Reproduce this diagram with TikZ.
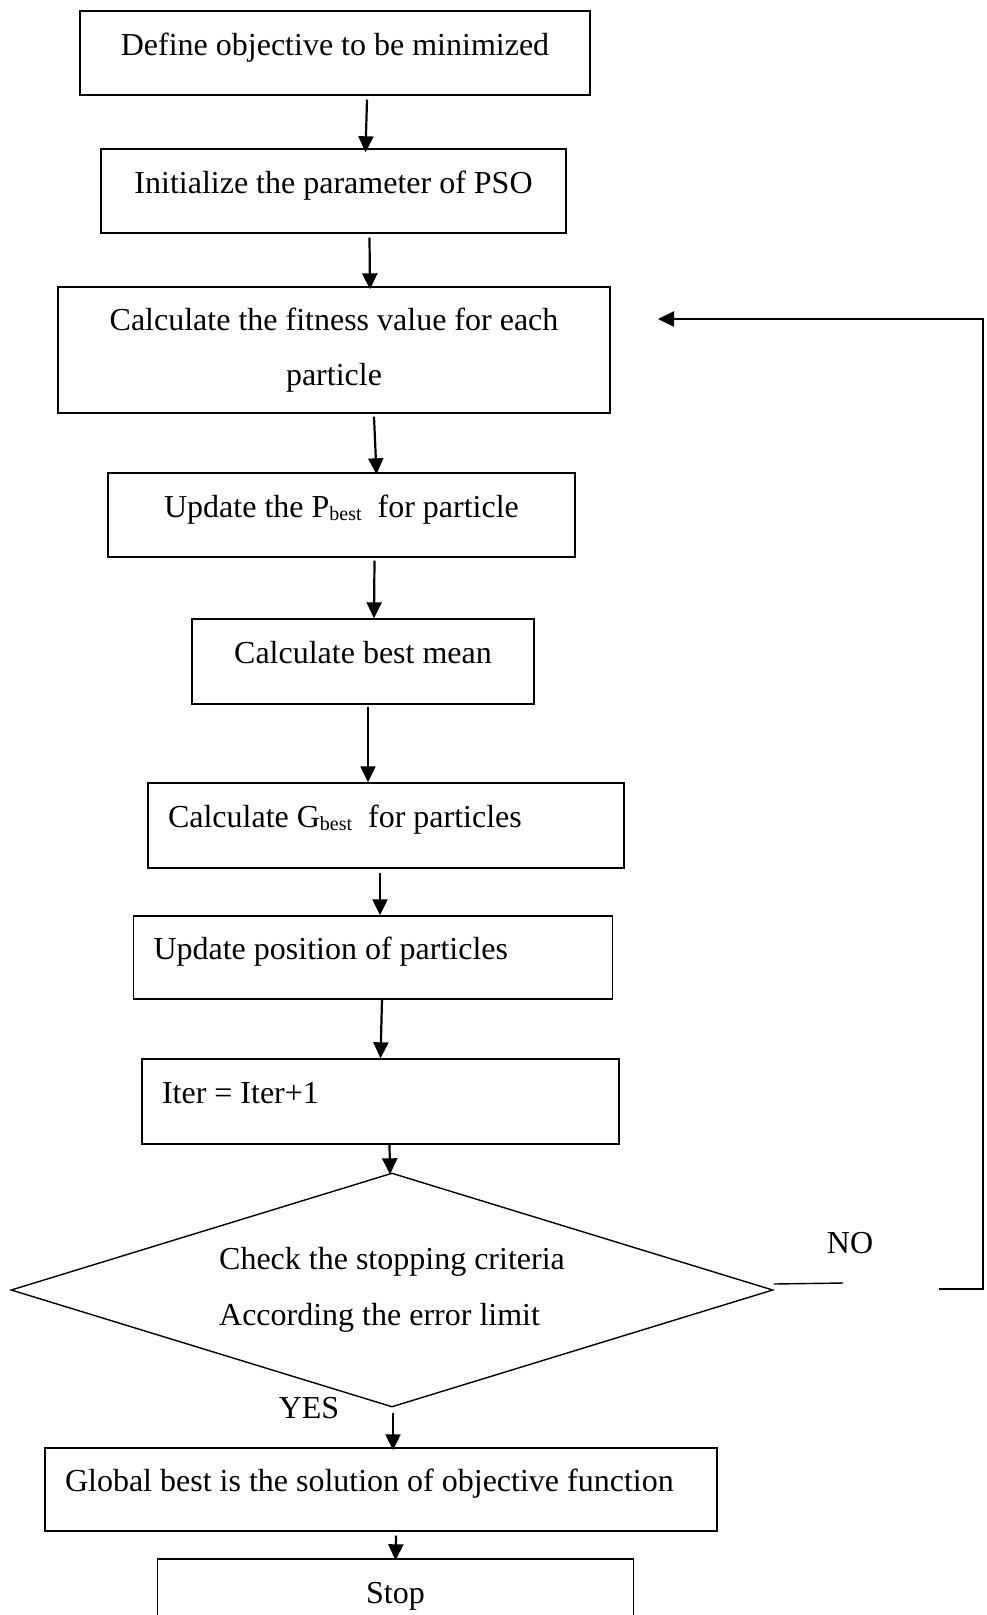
\documentclass[tikz,border=0pt]{standalone}
\usepackage{fontspec}
\setmainfont{Liberation Serif}
\usetikzlibrary{
    positioning,
    arrows.meta,
    shapes.geometric
}
\newcommand{\subIdx}[1]{\raisebox{-3pt}{\fontsize{20}{20}\selectfont #1}}

\begin{document}
\begin{tikzpicture}[x=1pt, y=-1pt, >={Triangle[length=16pt, width=15pt]},
        font=\fontsize{32}{55.5}\selectfont,
        baseBox/.style={draw, line width=1.4pt, inner sep=0pt},
        procBox/.style={baseBox, minimum height=84pt, text height=22pt, text depth=18pt},
        leftBox/.style={procBox, align=flush left, inner xsep=20pt},
        decision/.style={diamond, draw, line width=1.4pt, aspect=3.256, inner sep=0pt,
            minimum width=762pt, minimum height=234pt, align=flush left},
        flow/.style={->, line width=2.2pt}]
        \useasboundingbox (0,0) rectangle (987,1615);

        % Steps
        \node[procBox, minimum width=510pt] (define) at (335,53) {Define objective to be minimized};
        \node[procBox, minimum width=465pt] (init) at (333.5,191) {Initialize the parameter of PSO};
        \node[baseBox, align=center, minimum width=552pt, minimum height=126pt] (fitness) at (334,350)
            {Calculate the fitness value for each\\particle};
        \node[procBox, minimum width=467pt] (pbest) at (341.5,515) {Update the P\subIdx{best} \ for particle};
        \node[procBox, minimum width=342pt, minimum height=85pt] (mean) at (363,661.5) {Calculate best mean};
        \node[leftBox, text width=436pt, minimum height=85pt] (gbest) at (386,825.5) {Calculate G\subIdx{best} \ for particles};
        \node[leftBox, text width=439pt, minimum height=83pt] (position) at (373,957.5) {Update position of particles};
        \node[leftBox, text width=437pt, minimum height=85pt] (iter) at (380.5,1101.5) {Iter = Iter+1};
        \node[decision] (check) at (392,1290) {Check the stopping criteria\\According the error limit};
        \node[leftBox, text width=632pt, minimum height=83pt] (global) at (381,1489.5) {Global best is the solution of objective function};
        \node[procBox, minimum width=476pt] (stop) at (395.5,1601) {Stop};

        % Labels
        \node[anchor=base] (yes) at (309,1418) {YES};
        \node[anchor=base] (no) at (850,1253) {NO};

        % Main flow
        \draw[flow] ([xshift=32pt, yshift=-4pt]define.south) -- ([xshift=32pt, yshift=-4pt]init.north);
        \draw[flow] ([xshift=36pt, yshift=-4pt]init.south) -- ([xshift=36pt, yshift=-3pt]fitness.north);
        \draw[flow] ([xshift=40pt, yshift=-3pt]fitness.south) -- ([xshift=35pt, yshift=-2pt]pbest.north);
        \draw[flow] ([xshift=33pt, yshift=-3pt]pbest.south) -- ([xshift=11pt]mean.north);
        \draw[flow] ([xshift=5pt, yshift=-2pt]mean.south) -- ([xshift=-18pt]gbest.north);
        \draw[flow] ([xshift=-6pt, yshift=-4pt]gbest.south) -- ([xshift=7pt]position.north);
        \draw[flow] ([xshift=9pt]position.south) -- ([xshift=0pt]iter.north);
        \draw[flow] ([xshift=9pt]iter.south) -- ([xshift=-2pt, yshift=-2pt]check.north);
        \draw[flow] ([xshift=1pt, yshift=-5pt]check.south) -- ([xshift=12pt, yshift=-3pt]global.north);
        \draw[flow] ([xshift=15pt, yshift=-4pt]global.south) -- ([xshift=0pt, yshift=-2pt]stop.north);

        % Back to fitness
        \coordinate (noEnd) at (843,1283);
        \coordinate (loopStart) at (939,1289);
        \coordinate (loopTip) at (658,319);
        \draw[line width=1.4pt] ([yshift=6pt]check.east) -- (noEnd);
        \draw[flow] (loopStart) -- ++(44,0) |- (loopTip);
    \end{tikzpicture}
\end{document}
